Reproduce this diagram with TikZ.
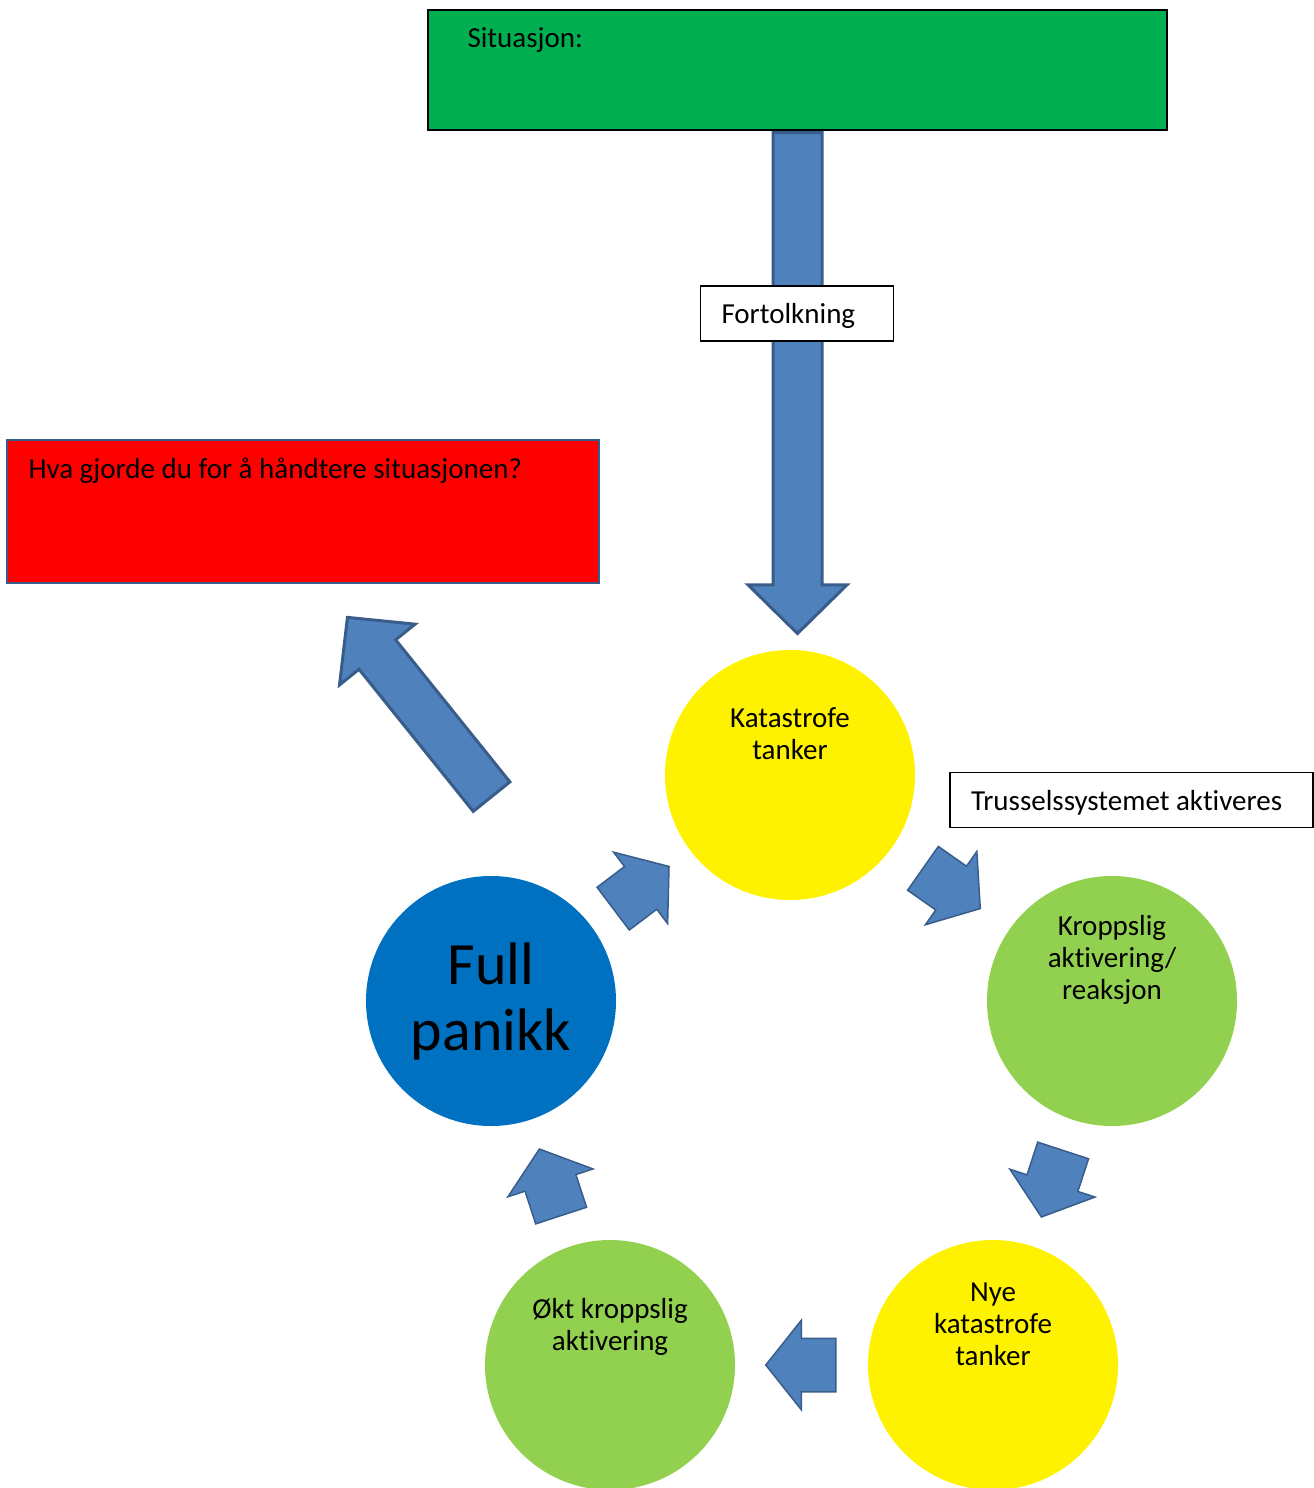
\documentclass[tikz,border=0pt]{standalone}
\usepackage{fontspec}
\setmainfont{Carlito}[Ligatures=NoCommon]
\usetikzlibrary{shapes.arrows,calc}

\definecolor{arrowfill}{HTML}{4F81BD}
\definecolor{arrowline}{HTML}{385D8A}
\definecolor{sitgreen}{HTML}{00B050}
\definecolor{stagegreen}{HTML}{92D050}
\definecolor{panicblue}{HTML}{0070C0}

\begin{document}
\begin{tikzpicture}[x=1pt, y=1pt,
    every node/.style={font=\fontsize{29}{32}\selectfont},
    stage/.style={circle, minimum size=250, inner sep=0},
    stagetext/.style={align=center},
    labelbox/.style={draw=black, fill=white, line width=1.5, inner xsep=21, inner ysep=0, minimum height=55, text depth=0, align=flush left},
    blockarrow/.style={single arrow, fill=arrowfill, draw=arrowline, inner xsep=0},
    smallarrow/.style={blockarrow, line width=1.5, inner ysep=26, minimum width=88, single arrow head extend=18, single arrow tip angle=103, minimum height=70},
    bigarrow/.style={blockarrow, line width=3, inner ysep=23, minimum width=96, single arrow head extend=25, single arrow tip angle=91}]
                \newcommand{\stagelift}{41}
                \newcommand{\halfstep}{35pt}

                \useasboundingbox (0,0) rectangle (1314,-1488);

                % Draw situation and coping boxes
                \node[draw=black, line width=2, fill=sitgreen, minimum width=739, minimum height=120] (sit) at (797.5,-70) {};
                \node[anchor=base west] (sittext) at ([xshift=37,yshift=-39]sit.north west) {Situasjon:};
                \node[draw=arrowline, line width=2, fill=red, minimum width=592, minimum height=143] (hva) at (303,-511.5) {};
                \node[anchor=base west] (hvatext) at ([xshift=19,yshift=-39]hva.north west) {Hva gjorde du for å håndtere situasjonen?};

                % Draw stages
                \node[stage, fill=yellow] (kat) at (790,-775) {};
                \node[stage, fill=stagegreen] (kro) at (1112,-1001) {};
                \node[stage, fill=yellow] (nye) at (993,-1365) {};
                \node[stage, fill=stagegreen] (okt) at (610,-1365) {};
                \node[stage, fill=panicblue, align=center, font=\fontsize{60}{66}\selectfont] (full) at (491,-1001) {Full\\panikk};

                \node[stagetext] (kattext) at ([yshift=\stagelift]kat.center) {Katastrofe\\tanker};
                \node[stagetext] (krotext) at ([yshift=\stagelift]kro.center) {Kroppslig\\aktivering/\\reaksjon};
                \node[stagetext] (nyetext) at ([yshift=\stagelift]nye.center) {Nye\\katastrofe\\tanker};
                \node[stagetext] (okttext) at ([yshift=\stagelift-3]okt.center) {Økt kroppslig\\aktivering};

                % Draw cycle arrows
                \foreach \from/\to in {kat/kro, kro/nye, nye/okt, okt/full, full/kat} {
                    \path ($(\from)!0.5!(\to)!\halfstep!(\from)$) -- node[smallarrow, sloped, allow upside down, pos=0, anchor=tail] (\from-\to) {} (\to);
                }

                % Draw big arrows
                \node[bigarrow, rotate=-90, minimum height=501, anchor=tail] (sitarrow) at (sit.south) {};
                \node[labelbox, text width=151] (fort) at (797,-313.5) {Fortolkning};
                \node[bigarrow, inner ysep=22, rotate=128.8, minimum height=230, anchor=tail] (outarrow) at ([xshift=1.5,yshift=78]full.north) {};
                \node[labelbox, text width=321] (truss) at (1131.5,-800) {Trusselssystemet aktiveres};
            \end{tikzpicture}
\end{document}
